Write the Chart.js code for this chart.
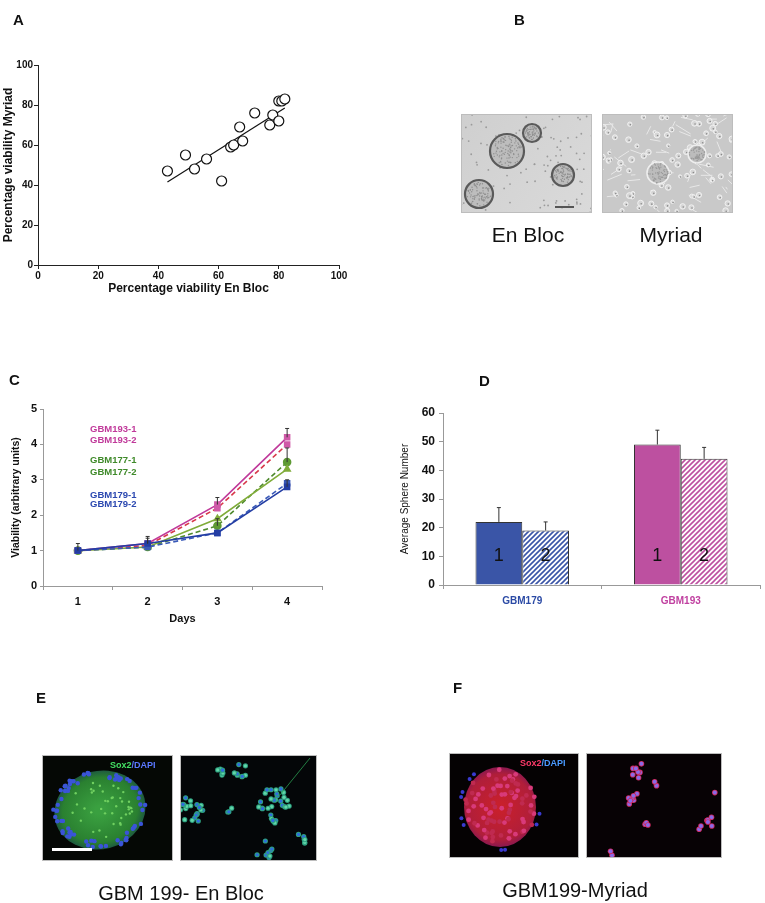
<!DOCTYPE html>
<html>
<head>
<meta charset="utf-8">
<script src="https://cdn.jsdelivr.net/npm/chart.js@4.4.0/dist/chart.umd.min.js"></script>
<style>
  body { margin: 0; background: #fff; width: 765px; height: 903px; position: relative; overflow: hidden;
         font-family: "Liberation Sans", Arial, sans-serif; color: #111; }
  canvas { position: absolute; }
  .letter { position: absolute; font-weight: bold; font-size: 15px; line-height: 15px; }
  .cap { position: absolute; font-size: 20px; line-height: 20px; white-space: nowrap; transform: translateX(-50%); }
</style>
</head>
<body>
<canvas id="photos" width="765" height="903" style="left:0;top:0"></canvas>

<div class="letter" style="left:13px;top:12px">A</div>
<div class="letter" style="left:514px;top:12px">B</div>
<div class="letter" style="left:9px;top:372px">C</div>
<div class="letter" style="left:479px;top:373px">D</div>
<div class="letter" style="left:36px;top:690px">E</div>
<div class="letter" style="left:453px;top:680px">F</div>

<div class="cap" style="left:528px;top:225px;font-size:21px">En Bloc</div>
<div class="cap" style="left:671px;top:225px;font-size:21px">Myriad</div>
<div class="cap" style="left:181px;top:883px">GBM 199- En Bloc</div>
<div class="cap" style="left:575px;top:880px">GBM199-Myriad</div>

<canvas id="chartA" width="350" height="260" style="left:0;top:40px"></canvas>
<canvas id="chartC" width="340" height="250" style="left:0;top:380px"></canvas>
<canvas id="chartD" width="375" height="250" style="left:390px;top:380px"></canvas>

<script>
// ---- Panel A: viability, En Bloc vs Myriad ----
const enBloc = [43, 49, 52, 56, 61, 64, 65, 67, 68, 72, 77, 78, 80, 80, 81, 82];
const myriad = [47, 55, 48, 53, 42, 59, 60, 69, 62, 76, 70, 75, 72, 82, 82, 83];
const fitX = [43, 82];
const fitY = [41.5, 78.5];

// ---- Panel C: viability over days ----
const days = ['1', '2', '3', '4'];
const gbm193_1 = [1.0, 1.2, 2.3, 4.2];
const gbm193_2 = [1.0, 1.15, 2.2, 4.0];
const gbm177_1 = [1.0, 1.1, 1.9, 3.3];
const gbm177_2 = [1.0, 1.1, 1.7, 3.5];
const gbm179_1 = [1.0, 1.2, 1.5, 2.8];
const gbm179_2 = [1.0, 1.1, 1.5, 2.9];
const err193_1 = [0.2, 0.2, 0.2, 0.25];
const err177_2 = [0, 0, 0.2, 0.4];
const err179_1 = [0, 0.15, 0, 0.2];
const legendC = ['GBM193-1', 'GBM193-2', 'GBM177-1', 'GBM177-2', 'GBM179-1', 'GBM179-2'];
const legendCy = [4.35, 4.04, 3.47, 3.14, 2.49, 2.23];

// ---- Panel D: sphere number ----
const groups = ['GBM179', 'GBM193'];
const sphere1 = [22, 49];
const sphere1Err = [5, 5];
const sphere2 = [19, 44];
const sphere2Err = [3, 4];

const FONT = '"Liberation Sans", Arial, sans-serif';
Chart.defaults.font.family = FONT;
Chart.defaults.color = '#111';

const errorBars = {
  id: 'errorBars',
  afterDatasetsDraw(chart) {
    const { ctx, scales: { y } } = chart;
    chart.data.datasets.forEach((ds, i) => {
      if (!ds.errors) return;
      const meta = chart.getDatasetMeta(i);
      ctx.save();
      ctx.strokeStyle = '#333';
      ctx.lineWidth = 1;
      meta.data.forEach((el, j) => {
        const e = ds.errors[j];
        if (!e) return;
        const v = ds.data[j];
        const top = y.getPixelForValue(v + e);
        const base = y.getPixelForValue(v);
        ctx.beginPath();
        ctx.moveTo(el.x, base); ctx.lineTo(el.x, top);
        ctx.moveTo(el.x - 2, top); ctx.lineTo(el.x + 2, top);
        ctx.stroke();
      });
      ctx.restore();
    });
  }
};

function axisBase(extra) {
  return Object.assign({
    grid: { drawOnChartArea: false, drawTicks: true, tickLength: 4, color: '#222' },
    border: { color: '#222', width: 1 },
  }, extra);
}

// Panel A
new Chart(document.getElementById('chartA'), {
  type: 'scatter',
  data: {
    datasets: [
      { data: enBloc.map((v, i) => ({ x: v, y: myriad[i] })), pointRadius: 5,
        pointBackgroundColor: '#fff', pointBorderColor: '#111', pointBorderWidth: 1.2 },
      { data: fitX.map((v, i) => ({ x: v, y: fitY[i] })), showLine: true, pointRadius: 0,
        borderColor: '#111', borderWidth: 1.2 }
    ]
  },
  options: {
    responsive: false, animation: false,
    plugins: { legend: { display: false }, tooltip: { enabled: false } },
    layout: { padding: { top: 25, right: 11, left: 0, bottom: 0 } },
    scales: {
      x: axisBase({
        type: 'linear', min: 0, max: 100,
        ticks: { stepSize: 20, font: { weight: 'bold', size: 10 }, padding: 1 },
        title: { display: true, text: 'Percentage viability En Bloc', font: { weight: 'bold', size: 12 }, padding: { top: 0, bottom: 4 } },
        afterFit: s => { s.height = 35; }
      }),
      y: axisBase({
        min: 0, max: 100,
        ticks: { stepSize: 20, font: { weight: 'bold', size: 10 }, padding: 1 },
        title: { display: true, text: 'Percentage viability Myriad', font: { weight: 'bold', size: 12 }, padding: { top: 1, bottom: 0 } },
        afterFit: s => { s.width = 38; }
      })
    }
  }
});

// Panel C
const legendColorsC = ['#c0399a', '#c0399a', '#3f8a2a', '#3f8a2a', '#2b48b0', '#2b48b0'];
const legendTextC = {
  id: 'legendTextC',
  afterDraw(chart) {
    const { ctx, chartArea, scales: { y } } = chart;
    ctx.save();
    ctx.font = 'bold 9.5px ' + FONT;
    ctx.textBaseline = 'alphabetic';
    legendC.forEach((t, i) => {
      ctx.fillStyle = legendColorsC[i];
      ctx.fillText(t, chartArea.left + 47, y.getPixelForValue(legendCy[i]));
    });
    ctx.restore();
  }
};

function lineSet(data, color, dashed, style, errors, pointColor) {
  return {
    data, errors, borderColor: color, borderWidth: 1.6, borderDash: dashed ? [5, 3] : [],
    pointStyle: style, pointRadius: 3.5,
    pointBackgroundColor: pointColor || color, pointBorderColor: pointColor || color, tension: 0
  };
}

// dataset 0 is drawn on top
new Chart(document.getElementById('chartC'), {
  type: 'line',
  data: {
    labels: days,
    datasets: [
      lineSet(gbm179_1, '#243ea4', false, 'rect', err179_1),
      lineSet(gbm179_2, '#3a5ab8', true, 'rect'),
      lineSet(gbm193_1, '#c0399a', false, 'rect', err193_1, '#d05aa8'),
      lineSet(gbm193_2, '#d8384a', true, 'rect', null, '#d05aa8'),
      lineSet(gbm177_1, '#80ac3a', false, 'triangle'),
      lineSet(gbm177_2, '#4f8a2e', true, 'circle', err177_2, '#5e9a34'),
    ]
  },
  options: {
    responsive: false, animation: false,
    plugins: { legend: { display: false }, tooltip: { enabled: false } },
    layout: { padding: { top: 29, right: 18, left: 0, bottom: 0 } },
    scales: {
      x: axisBase({
        offset: true,
        grid: { offset: true, drawOnChartArea: false, tickLength: 4, color: '#999' },
        border: { color: '#999', width: 1 },
        ticks: { font: { weight: 'bold', size: 11 }, padding: 5 },
        title: { display: true, text: 'Days', font: { weight: 'bold', size: 11 }, padding: { top: 0, bottom: 4 } },
        afterFit: s => { s.height = 44; }
      }),
      y: axisBase({
        min: 0, max: 5,
        grid: { drawOnChartArea: false, tickLength: 3, color: '#999' },
        border: { color: '#999', width: 1 },
        ticks: { stepSize: 1, font: { weight: 'bold', size: 11 }, padding: 3 },
        title: { display: true, text: 'Viability (arbitrary units)', font: { weight: 'bold', size: 10.5 }, padding: { top: 10, bottom: 0 } },
        afterFit: s => { s.width = 43; }
      })
    }
  },
  plugins: [errorBars, legendTextC]
});

// Panel D
function hatch(color) {
  const c = document.createElement('canvas');
  c.width = 5; c.height = 5;
  const h = c.getContext('2d');
  h.fillStyle = '#fff'; h.fillRect(0, 0, 5, 5);
  h.strokeStyle = color; h.lineWidth = 1.6;
  h.beginPath();
  h.moveTo(-1, 6); h.lineTo(6, -1);
  h.moveTo(-1, 1); h.lineTo(1, -1);
  h.moveTo(4, 6); h.lineTo(6, 4);
  h.stroke();
  return h.createPattern(c, 'repeat');
}
const barLabels = {
  id: 'barLabels',
  afterDatasetsDraw(chart) {
    const { ctx, scales: { y } } = chart;
    ctx.save();
    ctx.font = '18px ' + FONT;
    ctx.fillStyle = '#111';
    ctx.textAlign = 'center';
    ctx.textBaseline = 'middle';
    chart.data.datasets.forEach((ds, i) => {
      chart.getDatasetMeta(i).data.forEach(el => ctx.fillText(ds.label, el.x, y.getPixelForValue(10)));
    });
    ctx.restore();
  }
};
const groupColors = ['#2b4aa5', '#c040a0'];
new Chart(document.getElementById('chartD'), {
  type: 'bar',
  data: {
    labels: groups,
    datasets: [
      { label: '1', data: sphere1, errors: sphere1Err, backgroundColor: ['#3a55a7', '#bd50a0'],
        borderColor: '#333', borderWidth: 1, barPercentage: 1, categoryPercentage: 0.59 },
      { label: '2', data: sphere2, errors: sphere2Err, backgroundColor: [hatch('#3a55a7'), hatch('#bd50a0')],
        borderColor: '#333', borderWidth: 1, barPercentage: 1, categoryPercentage: 0.59 }
    ]
  },
  options: {
    responsive: false, animation: false,
    plugins: { legend: { display: false }, tooltip: { enabled: false } },
    layout: { padding: { top: 33, right: 5, left: 0, bottom: 0 } },
    scales: {
      x: axisBase({
        grid: { offset: true, drawOnChartArea: false, tickLength: 4, color: '#999' },
        border: { color: '#999', width: 1 },
        ticks: { font: { weight: 'bold', size: 10 }, padding: 6, color: c => groupColors[c.index] },
        afterFit: s => { s.height = 45; }
      }),
      y: axisBase({
        min: 0, max: 60,
        grid: { drawOnChartArea: false, tickLength: 4, color: '#999' },
        border: { color: '#999', width: 1 },
        ticks: { stepSize: 10, font: { weight: 'bold', size: 12 }, padding: 4 },
        title: { display: true, text: 'Average Sphere Number', font: { size: 10 }, padding: { top: 9, bottom: 0 } },
        afterFit: s => { s.width = 53; }
      })
    }
  },
  plugins: [errorBars, barLabels]
});

// ---- micrograph stand-ins (B, E, F) ----
const g = document.getElementById('photos').getContext('2d');
let seed = 7;
function rnd() { seed = (seed * 16807) % 2147483647; return seed / 2147483647; }

function photo(x, y, w, h, bg, draw) {
  g.save();
  g.beginPath(); g.rect(x, y, w, h); g.clip();
  g.fillStyle = bg; g.fillRect(x, y, w, h);
  draw(x, y, w, h);
  g.restore();
  g.strokeStyle = '#bdbdbd'; g.lineWidth = 1;
  g.strokeRect(x + 0.5, y + 0.5, w - 1, h - 1);
}
function dot(cx, cy, r, fill) { g.beginPath(); g.arc(cx, cy, r, 0, Math.PI * 2); g.fillStyle = fill; g.fill(); }
function ring(cx, cy, r, fill, edge, lw) {
  g.beginPath(); g.arc(cx, cy, r, 0, Math.PI * 2);
  g.fillStyle = fill; g.fill();
  g.strokeStyle = edge; g.lineWidth = lw; g.stroke();
}
function speckle(cx, cy, r, n, col) {
  for (let i = 0; i < n; i++) {
    const a = rnd() * Math.PI * 2, d = Math.sqrt(rnd()) * r;
    dot(cx + Math.cos(a) * d, cy + Math.sin(a) * d, 0.7, col);
  }
}

// B - En Bloc
photo(461, 114, 131, 99, '#d2d2d2', (x, y, w, h) => {
  const gr = g.createLinearGradient(x, y, x + w, y + h);
  gr.addColorStop(0, '#cfcfcf'); gr.addColorStop(1, '#dadada');
  g.fillStyle = gr; g.fillRect(x, y, w, h);
  for (let i = 0; i < 110; i++) dot(x + rnd() * w, y + rnd() * h, 0.9, '#9a9a9a');
  [[46, 37, 17], [71, 19, 9], [102, 61, 11], [18, 80, 14]].forEach(([a, b, r]) => {
    ring(x + a, y + b, r, '#bdbdbd', '#5a5a5a', 2.2);
    speckle(x + a, y + b, r - 2, r * 6, '#8e8e8e');
  });
  g.strokeStyle = '#555'; g.lineWidth = 2;
  g.beginPath(); g.moveTo(x + 94, y + 93); g.lineTo(x + 113, y + 93); g.stroke();
});
// B - Myriad
photo(602, 114, 131, 99, '#c9c9c9', (x, y, w, h) => {
  g.strokeStyle = '#e8e8e8'; g.lineWidth = 1;
  for (let i = 0; i < 45; i++) {
    const sx = x + rnd() * w, sy = y + rnd() * h;
    g.beginPath(); g.moveTo(sx, sy); g.lineTo(sx + (rnd() - 0.5) * 30, sy + (rnd() - 0.5) * 20); g.stroke();
  }
  for (let i = 0; i < 90; i++) {
    const cx = x + rnd() * w, cy = y + rnd() * h;
    ring(cx, cy, 1.5 + rnd() * 1.5, '#d6d6d6', '#f4f4f4', 0.9);
    dot(cx + 0.6, cy + 0.6, 0.8, '#8a8a8a');
  }
  [[56, 59, 11], [95, 40, 9]].forEach(([a, b, r]) => {
    ring(x + a, y + b, r, '#bcbcbc', '#eeeeee', 1.6);
    speckle(x + a, y + b, r - 1, r * 6, '#999');
  });
});

// E - Sox2/DAPI green
photo(42, 755, 131, 106, '#050805', (x, y, w, h) => {
  const cx = x + 58, cy = y + 55;
  g.save();
  g.translate(cx, cy); g.rotate(-0.25); g.scale(1, 0.85);
  const gr = g.createRadialGradient(0, 0, 5, 0, 0, 46);
  gr.addColorStop(0, '#3aa040'); gr.addColorStop(0.8, '#2a8030'); gr.addColorStop(1, '#1e5a40');
  g.beginPath(); g.arc(0, 0, 46, 0, Math.PI * 2); g.fillStyle = gr; g.fill();
  g.restore();
  for (let i = 0; i < 70; i++) {
    const a = rnd() * Math.PI * 2, d = 38 + rnd() * 9;
    dot(cx + Math.cos(a) * d, cy + Math.sin(a) * d * 0.82, 2.2, '#3a54d8');
  }
  for (let i = 0; i < 40; i++) {
    const a = rnd() * Math.PI * 2, d = Math.sqrt(rnd()) * 34;
    dot(cx + Math.cos(a) * d, cy + Math.sin(a) * d * 0.82, 1.2, '#70d060');
  }
  g.fillStyle = '#fff'; g.fillRect(x + 10, y + 93, 40, 3);
  g.font = 'bold 9px ' + FONT; g.textBaseline = 'alphabetic';
  g.fillStyle = '#44e064'; g.fillText('Sox2', x + 68, y + 13);
  const wS = g.measureText('Sox2').width;
  g.fillStyle = '#5a78ff'; g.fillText('/DAPI', x + 68 + wS, y + 13);
});
photo(180, 755, 137, 106, '#040608', (x, y, w, h) => {
  const clusters = [[10, 55, 14, 22], [95, 50, 18, 30], [40, 15, 6, 6], [60, 15, 8, 8], [50, 55, 4, 3], [120, 85, 6, 6], [85, 95, 10, 8]];
  clusters.forEach(([a, b, r, n]) => {
    for (let i = 0; i < n; i++) {
      const ang = rnd() * Math.PI * 2, d = Math.sqrt(rnd()) * r;
      dot(x + a + Math.cos(ang) * d, y + b + Math.sin(ang) * d, 2.6, '#2ea080');
      dot(x + a + Math.cos(ang) * d, y + b + Math.sin(ang) * d, 1.6, rnd() < 0.5 ? '#2f6ae0' : '#62d6a8');
    }
  });
  g.strokeStyle = '#2a9a50'; g.lineWidth = 0.8;
  g.beginPath(); g.moveTo(x + 100, y + 40); g.lineTo(x + 130, y + 3); g.stroke();
});

// F - Sox2/DAPI red
photo(449, 753, 130, 105, '#050203', (x, y, w, h) => {
  const cx = x + 51, cy = y + 54;
  const gr = g.createRadialGradient(cx, cy, 4, cx, cy, 40);
  gr.addColorStop(0, '#c8202c'); gr.addColorStop(0.8, '#b01e3a'); gr.addColorStop(1, '#8a1850');
  g.beginPath(); g.ellipse(cx, cy, 36, 40, 0, 0, Math.PI * 2); g.fillStyle = gr; g.fill();
  for (let i = 0; i < 80; i++) {
    const a = rnd() * Math.PI * 2, d = Math.sqrt(rnd()) * 38;
    dot(cx + Math.cos(a) * d * 0.95, cy + Math.sin(a) * d, 2.4, rnd() < 0.5 ? '#d83a7a' : '#c02a50');
  }
  for (let i = 0; i < 10; i++) {
    const a = rnd() * Math.PI * 2;
    dot(cx + Math.cos(a) * 40, cy + Math.sin(a) * 43, 2, '#3a3ad0');
  }
  g.font = 'bold 9px ' + FONT; g.textBaseline = 'alphabetic';
  g.fillStyle = '#ff3a6a'; g.fillText('Sox2', x + 71, y + 13);
  const wS = g.measureText('Sox2').width;
  g.fillStyle = '#4a9aff'; g.fillText('/DAPI', x + 71 + wS, y + 13);
});
photo(586, 753, 136, 105, '#070205', (x, y, w, h) => {
  const cells = [[53, 18, 8, 7], [47, 45, 7, 8], [60, 72, 4, 3], [125, 70, 6, 5], [113, 75, 3, 2], [25, 100, 3, 2], [70, 30, 3, 2], [128, 38, 2, 1]];
  cells.forEach(([a, b, r, n]) => {
    for (let i = 0; i < n; i++) {
      const ang = rnd() * Math.PI * 2, d = Math.sqrt(rnd()) * r;
      dot(x + a + Math.cos(ang) * d, y + b + Math.sin(ang) * d, 2.8, '#d02a60');
      dot(x + a + Math.cos(ang) * d, y + b + Math.sin(ang) * d, 2, '#8a6ae8');
    }
  });
});
</script>
</body>
</html>
